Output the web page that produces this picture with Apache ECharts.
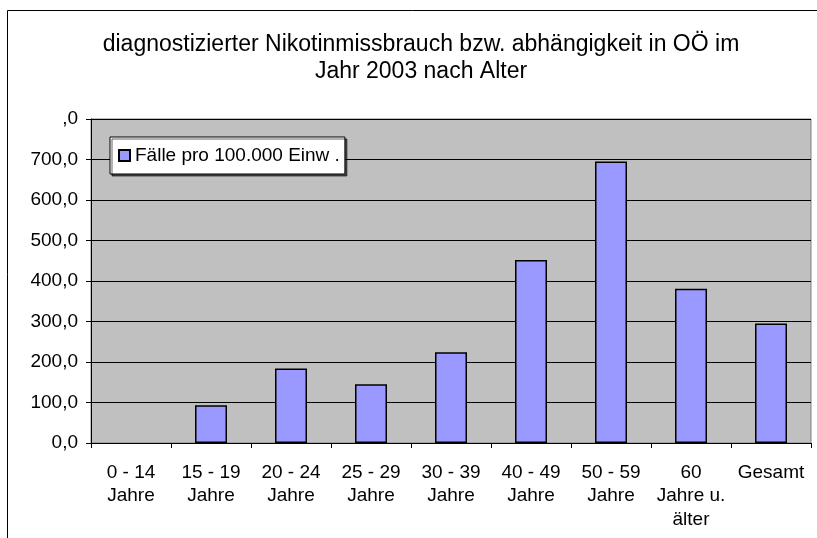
<!DOCTYPE html>
<html>
<head>
<meta charset="utf-8">
<script src="https://cdn.jsdelivr.net/npm/echarts@6/dist/echarts.min.js"></script>
<style>
html,body{margin:0;padding:0;background:#fff;}
#main{width:817px;height:538px;}
</style>
</head>
<body>
<div id="main"></div>
<script>
var categories = ['0 - 14\nJahre', '15 - 19\nJahre', '20 - 24\nJahre', '25 - 29\nJahre', '30 - 39\nJahre',
	'40 - 49\nJahre', '50 - 59\nJahre', '60\nJahre u.\nälter', 'Gesamt'];
var faelle = [0, 93, 184, 145, 224, 452, 695, 381, 295];
var seriesName = 'Fälle pro 100.000 Einw .';
var titleText = 'diagnostizierter Nikotinmissbrauch bzw. abhängigkeit in OÖ im\nJahr 2003 nach Alter';

var chart = echarts.init(document.getElementById('main'));
var font = 'Liberation Sans, Arial, sans-serif';

// a zero value draws nothing in the original
var barData = faelle.map(function (v) { return v === 0 ? '-' : v; });

var option = {
	animation: false,
	textStyle: { fontFamily: font },
	title: {
		text: titleText,
		left: 421,
		top: 31,
		textAlign: 'center',
		padding: 0,
		textStyle: { fontSize: 23, fontWeight: 'normal', color: '#000', lineHeight: 27, fontFamily: font }
	},
	legend: {
		left: 110,
		top: 137,
		padding: [9, 5, 9, 8],
		backgroundColor: '#fff',
		borderColor: '#000',
		borderWidth: 1,
		shadowColor: 'rgba(0,0,0,0.6)',
		shadowOffsetX: 2,
		shadowOffsetY: 2,
		itemWidth: 11,
		itemHeight: 11,
		itemGap: 6,
		textStyle: { fontSize: 19, color: '#000', fontFamily: font },
		data: [{ name: seriesName, icon: 'rect' }]
	},
	grid: {
		left: 91,
		right: 6,
		top: 119,
		bottom: 95,
		show: true,
		backgroundColor: '#C0C0C0',
		borderColor: '#808080',
		borderWidth: 1
	},
	xAxis: {
		type: 'category',
		data: categories,
		axisLine: { lineStyle: { color: '#000', width: 1 } },
		axisTick: { show: true, length: 5, lineStyle: { color: '#000' } },
		axisLabel: { color: '#000', fontSize: 19, lineHeight: 23.5, margin: 18, interval: 0, fontFamily: font }
	},
	yAxis: {
		type: 'value',
		min: 0,
		max: 800,
		interval: 100,
		axisLine: { show: true, lineStyle: { color: '#000' } },
		axisTick: { show: true, length: 5, lineStyle: { color: '#000' } },
		splitLine: { lineStyle: { color: '#000', width: 1 } },
		axisLabel: {
			color: '#000', fontSize: 19, margin: 13, fontFamily: font,
			formatter: function (v) {
				if (v === 800) return ',0';
				return v.toFixed(1).replace('.', ',');
			}
		}
	},
	series: [{
		name: seriesName,
		type: 'bar',
		data: barData,
		barWidth: '40%',
		itemStyle: { color: '#9999FF', borderColor: '#000', borderWidth: 1.5 }
	}],
	graphic: [{
		type: 'rect',
		shape: { x: 7.5, y: 10.5, width: 900, height: 600 },
		style: { fill: 'none', stroke: '#000', lineWidth: 1 },
		silent: true,
		z: -1
	}]
};
chart.setOption(option);
</script>
</body>
</html>
